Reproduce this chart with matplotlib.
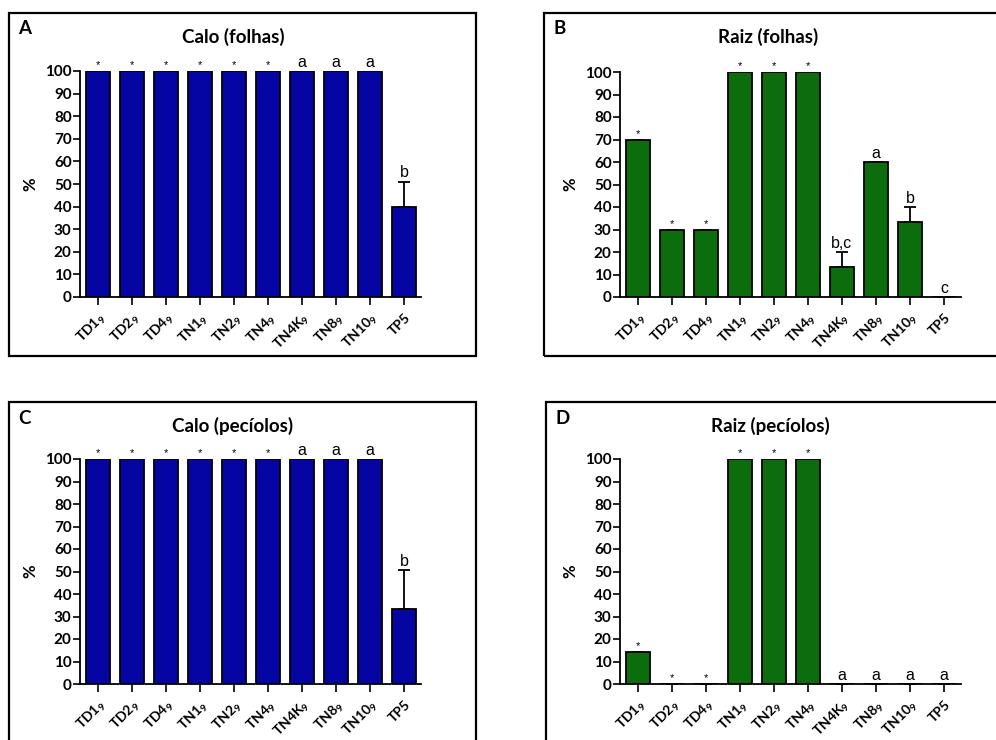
import numpy as np
import matplotlib
matplotlib.use("Agg")
import matplotlib.pyplot as plt
from matplotlib.patches import Rectangle

plt.rcParams['font.family'] = ['Lato', 'DejaVu Sans']
plt.rcParams['mathtext.fontset'] = 'custom'
plt.rcParams['mathtext.default'] = 'regular'

# tratamentos
grupos = ['TD1$_9$', 'TD2$_9$', 'TD4$_9$', 'TN1$_9$', 'TN2$_9$', 'TN4$_9$',
          'TN4K$_9$', 'TN8$_9$', 'TN10$_9$', 'TP5']

# % de explantes com calo / raiz
calo_folhas = [100, 100, 100, 100, 100, 100, 100, 100, 100, 40]
calo_folhas_err = [0, 0, 0, 0, 0, 0, 0, 0, 0, 11]
calo_folhas_sig = ['*', '*', '*', '*', '*', '*', 'a', 'a', 'a', 'b']

raiz_folhas = [70, 30, 30, 100, 100, 100, 13.3, 60, 33.3, 0]
raiz_folhas_err = [0, 0, 0, 0, 0, 0, 6.7, 0, 6.7, 0]
raiz_folhas_sig = ['*', '*', '*', '*', '*', '*', 'b,c', 'a', 'b', 'c']

calo_peciolos = [100, 100, 100, 100, 100, 100, 100, 100, 100, 33.3]
calo_peciolos_err = [0, 0, 0, 0, 0, 0, 0, 0, 0, 17.4]
calo_peciolos_sig = ['*', '*', '*', '*', '*', '*', 'a', 'a', 'a', 'b']

raiz_peciolos = [14.3, 0, 0, 100, 100, 100, 0, 0, 0, 0]
raiz_peciolos_err = [0, 0, 0, 0, 0, 0, 0, 0, 0, 0]
raiz_peciolos_sig = ['*', '*', '*', '*', '*', '*', 'a', 'a', 'a', 'a']

azul = '#0505a3'
verde = '#0c6d0c'

W, H = 996, 740
fig = plt.figure(figsize=(W / 100, H / 100), dpi=100)


def px(x0, y0, x1, y1):
    # pixel box -> figure fraction [left, bottom, width, height]
    return [x0 / W, 1 - y1 / H, (x1 - x0) / W, (y1 - y0) / H]


def painel(box, eixo, letra, titulo, vals, errs, sigs, cor):
    # moldura
    l, b, w, h = px(*box)
    fig.patches.append(Rectangle((l, b), w, h, transform=fig.transFigure,
                                 fill=False, ec='black', lw=1.6))
    fig.text(box[0] / W + 9 / W, 1 - (box[1] + 16) / H, letra,
             fontsize=13.5, fontweight='bold', va='center', ha='left')
    fig.text((box[0] + 224) / W, 1 - (box[1] + 24) / H, titulo,
             fontsize=13.5, fontweight='bold', ha='center', va='center')

    ax = fig.add_axes(px(*eixo))
    x = np.arange(len(vals))
    ax.bar(x, vals, width=0.68, color=cor, edgecolor='black', lw=1.3, zorder=3)
    low = np.zeros(len(vals))
    ax.errorbar(x, vals, yerr=[low, errs], fmt='none', ecolor='black',
                elinewidth=1.3, capsize=4.5, capthick=1.3, zorder=2)
    for xi, v, e, s in zip(x, vals, errs, sigs):
        if s == '*':
            ax.text(xi, v + e + 0.3, s, ha='center', va='bottom', fontsize=8,
                    family='Liberation Sans', zorder=4)
        else:
            ax.text(xi, v + e + 0.6, s, ha='center', va='bottom', fontsize=11.5,
                    family='Liberation Sans', zorder=4)

    ax.set_xlim(-0.53, 9.5)
    ax.set_ylim(0, 100)
    ax.set_yticks(np.arange(0, 101, 10))
    ax.set_xticks(x)
    ax.set_xticklabels(grupos, rotation=45, ha='right', rotation_mode='anchor',
                       fontsize=10, fontweight='bold')
    for t in ax.get_yticklabels():
        t.set_fontweight('bold')
        t.set_fontsize(11)
    ax.tick_params(axis='y', length=5, width=1.2, pad=1)
    ax.tick_params(axis='x', length=6, width=1.2, pad=4)
    for s in ['top', 'right']:
        ax.spines[s].set_visible(False)
    for s in ['left', 'bottom']:
        ax.spines[s].set_linewidth(1.3)
    ax.set_ylabel('%', fontsize=12, fontweight='bold', labelpad=5)
    ax.patch.set_visible(False)
    return ax


painel((9, 13, 476, 356), (80, 71, 421, 297), 'A', 'Calo (folhas)',
       calo_folhas, calo_folhas_err, calo_folhas_sig, azul)
painel((544, 13, 1011, 356), (620, 72, 961, 297), 'B', 'Raiz (folhas)',
       raiz_folhas, raiz_folhas_err, raiz_folhas_sig, verde)
painel((9, 402, 476, 745), (80, 459, 421, 684), 'C', 'Calo (pecíolos)',
       calo_peciolos, calo_peciolos_err, calo_peciolos_sig, azul)
painel((546, 402, 1013, 745), (620, 459, 961, 684), 'D', 'Raiz (pecíolos)',
       raiz_peciolos, raiz_peciolos_err, raiz_peciolos_sig, verde)

fig.savefig('out.png', dpi=100)
